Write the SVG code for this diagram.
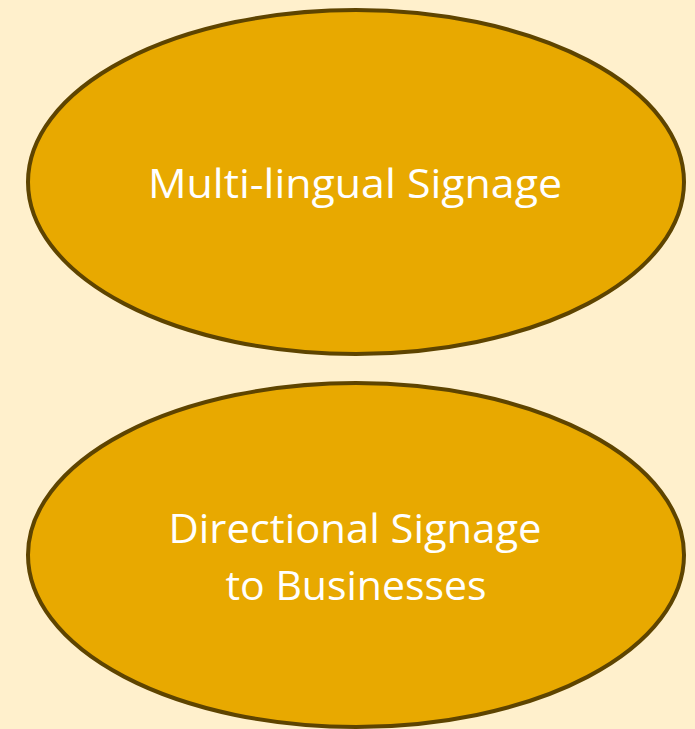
<svg xmlns="http://www.w3.org/2000/svg" width="695" height="729" viewBox="0 0 695 729">
<style>
.node{fill:#E8A900;stroke:#5E4400;stroke-width:4}
.lbl{font-family:"Open Sans","Liberation Sans",sans-serif;font-size:40px;fill:#FFFFFF;text-anchor:middle}
</style>
<rect width="695" height="729" fill="#FFF0CC"/>
<g id="node1">
<ellipse class="node" cx="356" cy="182" rx="328" ry="172"/>
<text class="lbl" x="355" y="198" textLength="414" lengthAdjust="spacingAndGlyphs">Multi-lingual Signage</text>
</g>
<g id="node2">
<ellipse class="node" cx="356" cy="555" rx="328" ry="172"/>
<text class="lbl" x="355" y="543" textLength="373" lengthAdjust="spacingAndGlyphs">Directional Signage</text>
<text class="lbl" x="356" y="600" textLength="261" lengthAdjust="spacingAndGlyphs">to Businesses</text>
</g>
<g id="connectors"/>
</svg>
